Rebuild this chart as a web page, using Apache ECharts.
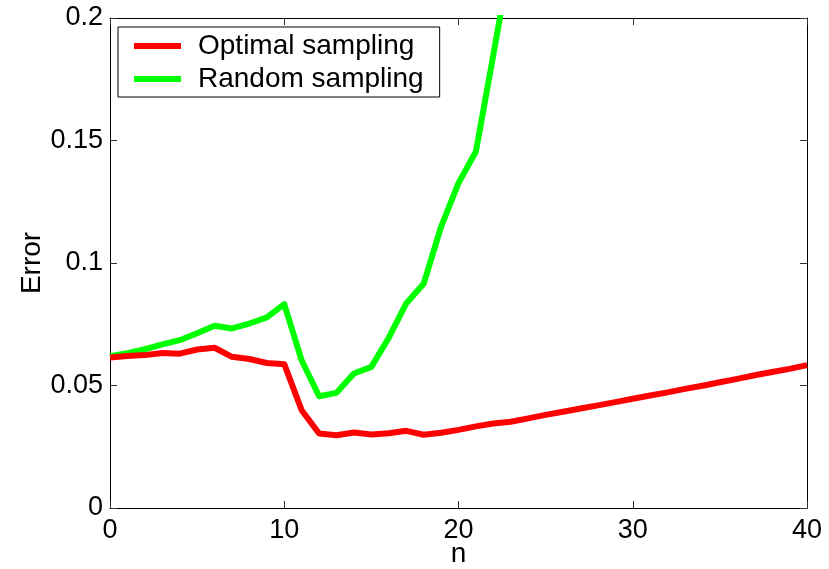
<!DOCTYPE html>
<html>
<head>
<meta charset="utf-8">
<script src="https://cdn.jsdelivr.net/npm/echarts@6/dist/echarts.min.js"></script>
<style>
html,body{margin:0;padding:0;background:#fff;}
#chart{width:829px;height:569px;}
</style>
</head>
<body>
<div id="chart"></div>
<script>
// Data
var nOptimal = [0,1,2,3,4,5,6,7,8,9,10,11,12,13,14,15,16,17,18,19,20,21,22,23,24,25,26,27,28,29,30,31,32,33,34,35,36,37,38,39,40];
var optimalErr = [0.0614,0.0620,0.0624,0.0633,0.0630,0.0647,0.0654,0.0617,0.0608,0.0592,0.0587,0.0399,0.0304,0.0297,0.0308,0.0300,0.0305,0.0315,0.0299,0.0307,0.0319,0.0333,0.0345,0.0352,0.0366,0.0380,0.0393,0.0406,0.0419,0.0432,0.0446,0.0459,0.0472,0.0486,0.0499,0.0513,0.0527,0.0542,0.0555,0.0568,0.0583];
var nRandom = [0,1,2,3,4,5,6,7,8,9,10,11,12,13,14,15,16,17,18,19,20,21,22,23];
var randomErr = [0.0620,0.0632,0.0648,0.0668,0.0685,0.0713,0.0744,0.0733,0.0753,0.0778,0.0832,0.0603,0.0456,0.0470,0.0549,0.0576,0.0695,0.0835,0.0915,0.1148,0.1326,0.1455,0.1850,0.2250];
var xTicks = {min:0, max:40, interval:10};
var yTicks = {min:0, max:0.2, interval:0.05};
var seriesNames = ['Optimal sampling','Random sampling'];

function pairs(xs, ys){ return xs.map(function(x,i){return [x, ys[i]];}); }

var font = 'Liberation Sans, Arial, Helvetica, sans-serif';
var chart = echarts.init(document.getElementById('chart'), null, {renderer:'canvas'});
var axisLine = {show:true, onZero:false, lineStyle:{color:'#000', width:1}};
var tick = {show:true, inside:true, length:7, lineStyle:{color:'#333', width:1}};
var option = {
  animation:false,
  backgroundColor:'#fff',
  grid:{left:110, right:22, top:18, bottom:61, containLabel:false, outerBoundsMode:'none'},
  legend:{
    data:seriesNames,
    orient:'vertical',
    left:118, top:27,
    padding:[5,16,4,16],
    itemGap:5,
    itemWidth:47, itemHeight:6,
    icon:'rect',
    borderColor:'#000', borderWidth:1,
    backgroundColor:'#fff',
    textStyle:{fontFamily:font, fontSize:28, color:'#000', padding:[0,0,0,12]}
  },
  xAxis:[{
    type:'value', min:xTicks.min, max:xTicks.max, interval:xTicks.interval,
    name:'n', nameLocation:'middle', nameGap:32, nameMoveOverlap:false,
    nameTextStyle:{fontFamily:font, fontSize:28, color:'#000', verticalAlign:'top'},
    axisLine:axisLine, axisTick:tick,
    axisLabel:{fontFamily:font, fontSize:27, color:'#000', margin:9},
    splitLine:{show:false}
  },{
    type:'value', position:'top', min:xTicks.min, max:xTicks.max, interval:xTicks.interval,
    axisLine:axisLine, axisTick:tick, axisLabel:{show:false}, splitLine:{show:false}
  }],
  yAxis:[{
    type:'value', min:yTicks.min, max:yTicks.max, interval:yTicks.interval,
    name:'Error', nameLocation:'middle', nameGap:64, nameRotate:90, nameMoveOverlap:false,
    nameTextStyle:{fontFamily:font, fontSize:28, color:'#000'},
    axisLine:axisLine, axisTick:tick,
    axisLabel:{fontFamily:font, fontSize:27, color:'#000', margin:7,
      formatter:function(v){return String(parseFloat(v.toFixed(4)));}},
    splitLine:{show:false}
  },{
    type:'value', position:'right', min:yTicks.min, max:yTicks.max, interval:yTicks.interval,
    axisLine:axisLine, axisTick:tick, axisLabel:{show:false}, splitLine:{show:false}
  }],
  series:[{
    name:seriesNames[1], type:'line', data:pairs(nRandom, randomErr),
    xAxisIndex:0, yAxisIndex:0, showSymbol:false, symbol:'none', clip:true, z:2,
    lineStyle:{color:'#00ff00', width:6, join:'round'}, itemStyle:{color:'#00ff00'}
  },{
    name:seriesNames[0], type:'line', data:pairs(nOptimal, optimalErr),
    xAxisIndex:0, yAxisIndex:0, showSymbol:false, symbol:'none', clip:true, z:3,
    lineStyle:{color:'#ff0000', width:6, join:'round'}, itemStyle:{color:'#ff0000'}
  }]
};
chart.setOption(option);
</script>
</body>
</html>
